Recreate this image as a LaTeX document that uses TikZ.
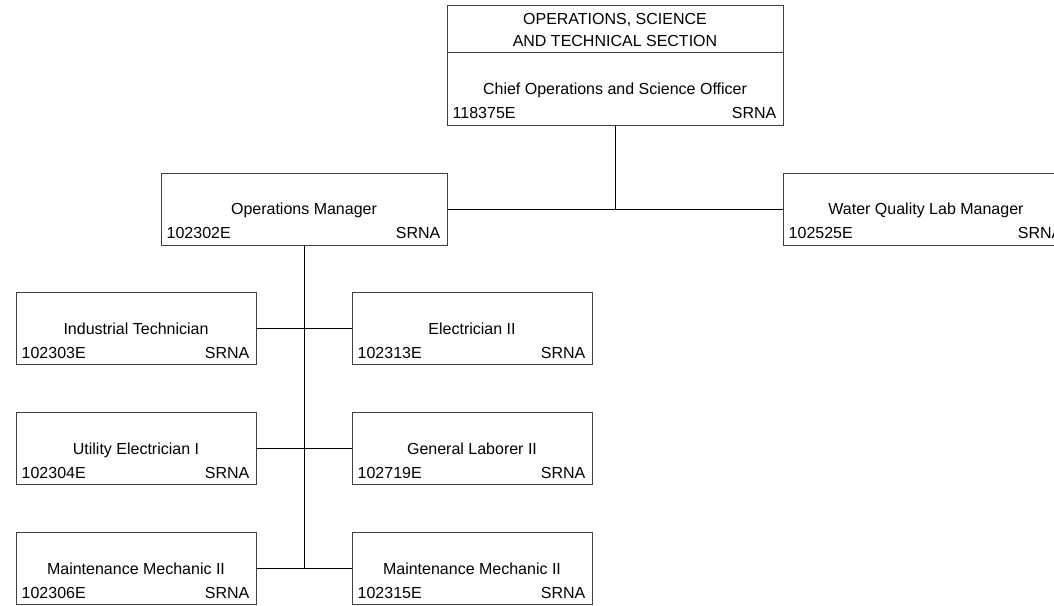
\documentclass[tikz,border=0pt]{standalone}
\usepackage{fontspec}
\setmainfont{Liberation Sans}
\usetikzlibrary{calc}

\tikzset{
  post/.style={draw=black!75,line width=1pt,minimum width=240pt,minimum height=72pt,inner sep=0pt},
  widepost/.style={post,minimum width=286pt},
  title/.style={anchor=base,inner sep=0pt},
  code/.style={anchor=base west,inner sep=0pt},
  grade/.style={anchor=base east,inner sep=0pt},
  link/.style={line width=1pt,black}
}
\newcommand{\posttext}[3]{%
  \node[title] (#1-t) at ($(#1.center)+(0,-5.5)$) {#2};
  \node[code] (#1-c) at ($(#1.south west)+(6,7)$) {#3};
  \node[grade] (#1-g) at ($(#1.south east)+(-7,7)$) {SRNA};
}

\begin{document}
\begin{tikzpicture}[x=1pt,y=1pt,font=\fontsize{16}{22}\selectfont]
  \useasboundingbox (0,0) rectangle (1054,-605);
  \node[post,minimum width=336pt,minimum height=47pt] (head) at (615,-28.5) {};
  \node[align=center,inner sep=0pt] (head-t) at ($(head.center)+(0,-1.5)$) {OPERATIONS, SCIENCE\\AND TECHNICAL SECTION};
  \node[post,minimum width=336pt,minimum height=73pt] (chief) at (615,-88.5) {};
  \posttext{chief}{Chief Operations and Science Officer}{118375E}
  \node[widepost] (opsmgr) at (304,-209) {};
  \posttext{opsmgr}{Operations Manager}{102302E}
  \node[widepost] (wqlab) at (926,-209) {};
  \posttext{wqlab}{Water Quality Lab Manager}{102525E}
  \node[post] (indtech) at (136,-328.5) {};
  \posttext{indtech}{Industrial Technician}{102303E}
  \node[post] (elec) at (472,-328.5) {};
  \posttext{elec}{Electrician II}{102313E}
  \node[post] (utilelec) at (136,-448.5) {};
  \posttext{utilelec}{Utility Electrician I}{102304E}
  \node[post] (laborer) at (472,-448.5) {};
  \posttext{laborer}{General Laborer II}{102719E}
  \node[post] (mechA) at (136,-568.5) {};
  \posttext{mechA}{Maintenance Mechanic II}{102306E}
  \node[post] (mechB) at (472,-568.5) {};
  \posttext{mechB}{Maintenance Mechanic II}{102315E}
  \draw[link] (chief.south) -- (chief.south |- opsmgr.east);
  \draw[link] (opsmgr.east) -- (wqlab.west);
  \draw[link] (opsmgr.south) -- (opsmgr.south |- mechA.east);
  \draw[link] (indtech.east) -- (elec.west);
  \draw[link] (utilelec.east) -- (laborer.west);
  \draw[link] (mechA.east) -- (mechB.west);
\end{tikzpicture}
\end{document}
